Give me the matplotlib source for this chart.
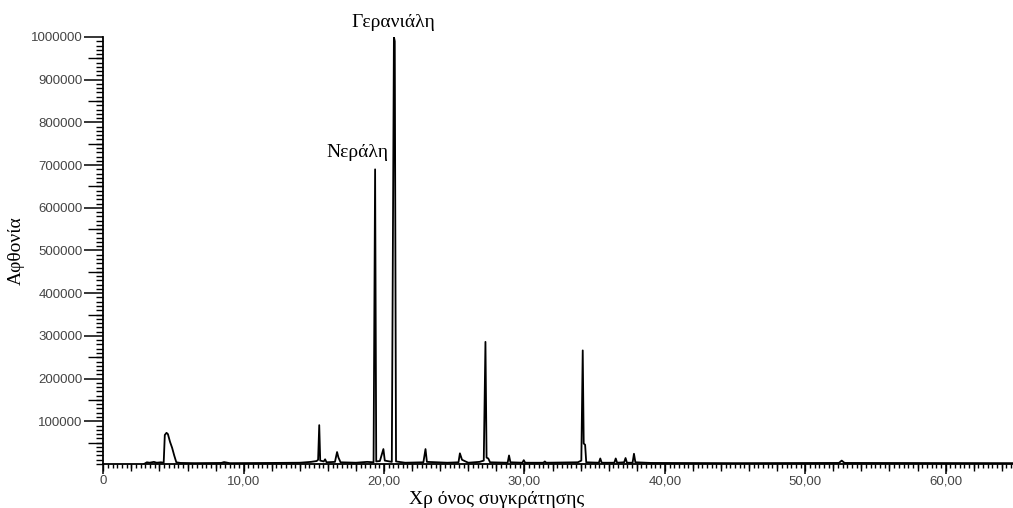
import matplotlib.pyplot as plt
import numpy as np
from matplotlib.ticker import MultipleLocator, FuncFormatter, FixedLocator

# retention time (min) and abundance
time = [2.9, 3.1, 3.3, 3.6, 3.8, 4.1, 4.3, 4.38, 4.5, 4.6, 4.75, 4.9, 5.05, 5.2,
        5.5, 6.5, 8.4, 8.6, 9.0, 12.0, 14.0, 14.8, 15.2, 15.3, 15.38, 15.45,
        15.7, 15.8, 15.9, 16.5, 16.65, 16.75, 16.9, 18.0, 18.8, 19.25, 19.36,
        19.44, 19.7, 19.95, 20.05, 20.55, 20.7, 20.76, 20.85, 21.5, 22.8, 22.95,
        23.05, 24.5, 25.3, 25.4, 25.55, 25.8, 26.0, 26.8, 27.1, 27.22, 27.3,
        27.42, 27.55, 28.8, 28.9, 29.0, 29.85, 29.95, 30.05, 31.35, 31.45, 31.55,
        33.8, 34.05, 34.15, 34.22, 34.32, 34.4, 35.3, 35.4, 35.5, 36.4, 36.5,
        36.6, 37.1, 37.2, 37.3, 37.7, 37.8, 37.9, 39.0, 45.0, 52.4, 52.6, 52.8,
        64.8]
abundance = [0, 4000, 3000, 5000, 3000, 4000, 3000, 68000, 73000, 70000, 52000,
             38000, 20000, 4000, 2500, 2000, 2500, 4500, 2000, 2500, 3000, 5000,
             7000, 10000, 91000, 8000, 6000, 11000, 4000, 5000, 28000, 15000,
             4000, 3000, 5000, 4000, 690000, 6000, 7000, 35000, 8000, 5000,
             1000000, 990000, 6000, 3000, 4000, 35000, 5000, 3000, 4000, 25000,
             10000, 6000, 3000, 5000, 8000, 286000, 15000, 13000, 4000, 3000,
             20000, 4000, 3000, 9000, 3000, 3000, 6000, 3000, 4000, 8000,
             266000, 48000, 45000, 4000, 3000, 13000, 3000, 3000, 13000, 3000,
             4000, 14000, 3000, 3000, 24000, 4000, 2500, 2000, 2500, 8000, 2500,
             2000]

peak_names = ['Νεράλη', 'Γερανιάλη']
peak_label_x = [18.1, 20.67]
peak_label_y = [730000, 1035000]

fig = plt.figure(figsize=(10.13, 5.08), dpi=100)
ax = fig.add_axes((0.102, 0.0866, 0.898, 0.8406))

ax.plot(time, abundance, color='black', lw=1.3)

ax.set_xlim(0, 64.8)
ax.set_ylim(0, 1000000)
ax.spines[['top', 'right']].set_visible(False)
ax.spines[['left', 'bottom']].set_linewidth(1.3)

ax.xaxis.set_major_locator(MultipleLocator(10))
ax.xaxis.set_minor_locator(FixedLocator(np.arange(0, 64.81, 1 / 3)))
ax.xaxis.set_major_formatter(FuncFormatter(
    lambda v, p: '0' if v == 0 else f'{v:.2f}'.replace('.', ',')))
ax.yaxis.set_major_locator(FixedLocator(np.arange(100000, 1000001, 100000)))
ax.yaxis.set_minor_locator(MultipleLocator(10000))
ax.yaxis.set_major_formatter(FuncFormatter(lambda v, p: f'{int(v)}'))
ax.tick_params(axis='x', which='major', length=7, width=1.1, pad=1,
               labelcolor='#444444')
ax.tick_params(axis='x', which='minor', length=3, width=1)
ax.tick_params(axis='y', which='major', length=14, width=1.1, pad=1,
               labelcolor='#444444')
ax.tick_params(axis='y', which='minor', length=5, width=1)
for lab in ax.get_xticklabels() + ax.get_yticklabels():
    lab.set_fontfamily('Liberation Sans')
    lab.set_fontsize(9.5)

# medium ticks
secx = ax.secondary_xaxis('bottom')
secx.set_xticks(np.arange(0, 64.8, 2))
secx.set_xticklabels([])
secx.tick_params(length=5, width=1)
secx.spines['bottom'].set_visible(False)
secy = ax.secondary_yaxis('left')
secy.set_yticks(np.arange(50000, 1000000, 100000))
secy.set_yticklabels([])
secy.tick_params(length=11, width=1)
secy.spines['left'].set_visible(False)

ax.set_xlabel('Χρ όνος συγκράτησης', family='Liberation Serif', size=14)
ax.xaxis.label.set_va('center')
ax.xaxis.set_label_coords(0.432, -0.082)
ax.set_ylabel('Αφθονία', family='Liberation Serif', size=14, labelpad=4)

for name, x, y in zip(peak_names, peak_label_x, peak_label_y):
    ax.text(x, y, name, family='Liberation Serif', size=14, ha='center',
            va='center', clip_on=False)

fig.savefig('out.png', dpi=100)
